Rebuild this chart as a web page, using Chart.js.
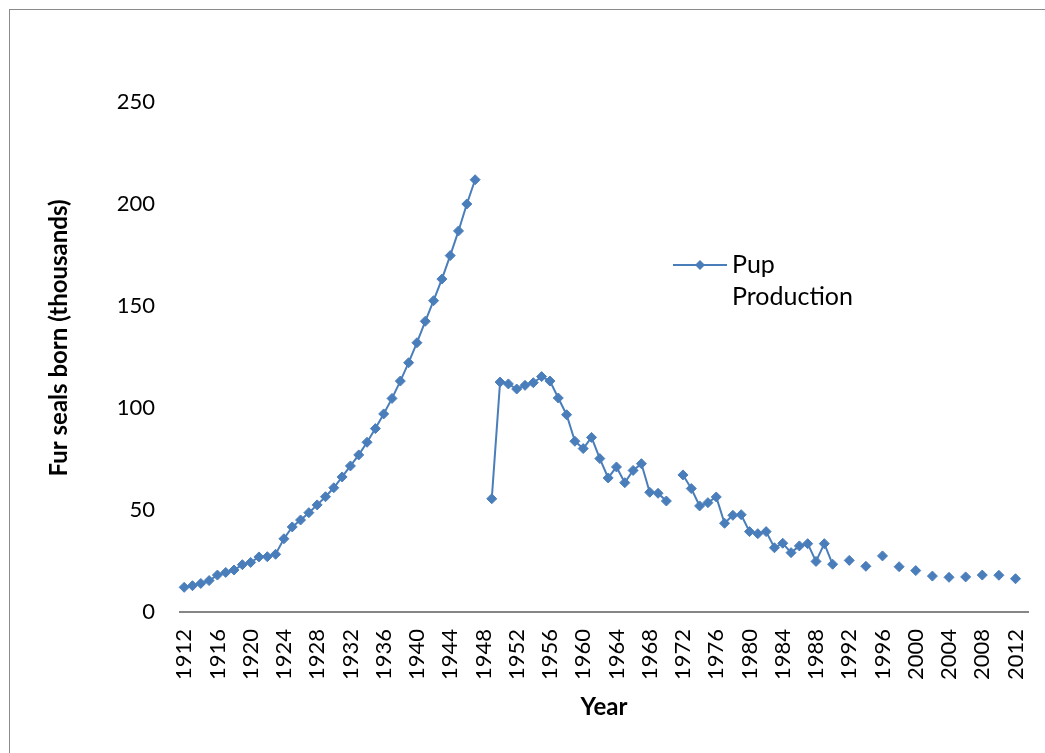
<!DOCTYPE html>
<html>
<head>
<meta charset="utf-8">
<script src="https://cdn.jsdelivr.net/npm/chart.js@4/dist/chart.umd.min.js"></script>
<style>
  html, body { margin: 0; padding: 0; background: #fff; }
  #wrap { position: relative; width: 1045px; height: 753px; }
</style>
</head>
<body>
<div id="wrap"><canvas id="c" width="1045" height="753"></canvas></div>
<script>
// categories: one per year, 1912..2013 (last one empty like the original axis)
const years = Array.from({ length: 102 }, (_, i) => String(1912 + i));

// pup production (thousands), null = no survey that year
const pupProduction = [
  12.1, 12.9, 14.0, 15.4, 18.1, 19.4, 20.6, 23.2, 24.3, 27.0,   // 1912-1921
  27.1, 28.3, 35.9, 41.7, 45.1, 48.7, 52.5, 56.5, 60.9, 66.2,   // 1922-1931
  71.6, 77.0, 83.2, 89.9, 97.1, 104.7, 113.2, 122.2, 132.0, 142.5, // 1932-1941
  152.6, 163.2, 174.7, 186.8, 200.0, 211.9, null, 55.5, 112.7, 111.8, // 1942-1951
  109.3, 111.1, 112.4, 115.4, 113.2, 104.9, 96.7, 83.7, 80.1, 85.6, // 1952-1961
  75.2, 65.7, 71.1, 63.4, 69.4, 72.7, 58.7, 58.2, 54.4, null,   // 1962-1971
  67.2, 60.5, 52.0, 53.6, 56.4, 43.5, 47.4, 47.7, 39.4, 38.4,   // 1972-1981
  39.4, 31.5, 33.7, 29.1, 32.4, 33.5, 24.8, 33.5, 23.4, null,   // 1982-1991
  25.3, null, 22.4, null, 27.5, null, 22.2, null, 20.3, null,   // 1992-2001
  17.6, null, 17.0, null, 17.2, null, 18.1, null, 18.0, null,   // 2002-2011
  16.3, null                                                    // 2012-2013
];

const yTicks = [0, 50, 100, 150, 200, 250];
const seriesLabel = ['Pup', 'Production'];
const yTitle = 'Fur seals born (thousands)';

const blue = '#4a7ebb';
const axisGray = '#868686';
const fontFamily = 'Lato, "Open Sans", sans-serif';

const framePlugin = {
  id: 'frame',
  beforeDraw(chart) {
    const ctx = chart.ctx;
    ctx.save();
    ctx.strokeStyle = '#8a8a8a';
    ctx.lineWidth = 1;
    ctx.strokeRect(9.5, 9.5, 2000, 2000);
    ctx.restore();
  }
};

// y title (Excel puts it a little above the plot centre) and the wrapped legend
const extrasPlugin = {
  id: 'extras',
  afterDraw(chart) {
    const ctx = chart.ctx;
    ctx.save();
    ctx.translate(59, 338);
    ctx.rotate(-Math.PI / 2);
    ctx.fillStyle = '#000';
    ctx.font = 'bold 24px ' + fontFamily;
    ctx.textAlign = 'center';
    ctx.textBaseline = 'middle';
    ctx.fillText(yTitle, 0, 0);
    ctx.restore();

    const y = 265;
    ctx.save();
    ctx.strokeStyle = blue;
    ctx.lineWidth = 2;
    ctx.beginPath();
    ctx.moveTo(673, y);
    ctx.lineTo(727, y);
    ctx.stroke();
    ctx.fillStyle = blue;
    ctx.beginPath();
    ctx.moveTo(700, y - 5); ctx.lineTo(705, y); ctx.lineTo(700, y + 5); ctx.lineTo(695, y);
    ctx.closePath();
    ctx.fill();
    ctx.fillStyle = '#000';
    ctx.font = '25px ' + fontFamily;
    ctx.textBaseline = 'middle';
    ctx.textAlign = 'left';
    seriesLabel.forEach((t, i) => ctx.fillText(t, 732, y + i * 32));
    ctx.restore();
  }
};

new Chart(document.getElementById('c'), {
  type: 'line',
  data: {
    labels: years,
    datasets: [{
      label: seriesLabel.join(' '),
      data: pupProduction,
      borderColor: blue,
      backgroundColor: blue,
      borderWidth: 2,
      pointStyle: 'rectRot',
      pointRadius: 5,
      pointBorderWidth: 1,
      pointBorderColor: blue,
      pointBackgroundColor: blue,
      spanGaps: false,
      tension: 0
    }]
  },
  options: {
    responsive: false,
    animation: false,
    devicePixelRatio: 1,
    layout: { padding: { top: 102, right: 17, bottom: 0, left: 0 } },
    plugins: {
      legend: { display: false },
      tooltip: { enabled: false }
    },
    scales: {
      x: {
        type: 'category',
        offset: true,
        grid: { display: false, drawTicks: false },
        border: { display: true, color: axisGray, width: 2 },
        ticks: {
          autoSkip: false,
          maxRotation: 90,
          minRotation: 90,
          padding: 17,
          color: '#000',
          font: { family: fontFamily, size: 22 },
          callback: function (v) {
            const yr = Number(this.getLabelForValue(v));
            return (yr - 1912) % 4 === 0 && yr <= 2012 ? String(yr) : '';
          }
        },
        title: {
          display: true,
          text: 'Year',
          color: '#000',
          font: { family: fontFamily, size: 24, weight: 'bold' },
          padding: { top: 0, bottom: 31 }
        },
        afterFit(scale) {
          scale.height = 141;
          scale.paddingLeft = 0;
          scale.paddingRight = 0;
        }
      },
      y: {
        min: 0,
        max: 250,
        grid: { display: false, drawTicks: false },
        border: { display: false },
        afterBuildTicks(scale) { scale.ticks = yTicks.map(v => ({ value: v })); },
        ticks: {
          padding: 25,
          color: '#000',
          font: { family: fontFamily, size: 22 }
        },
        afterFit(scale) {
          scale.width = 180;
          scale.paddingTop = 0;
          scale.paddingBottom = 0;
        }
      }
    }
  },
  plugins: [framePlugin, extrasPlugin]
});
</script>
</body>
</html>
